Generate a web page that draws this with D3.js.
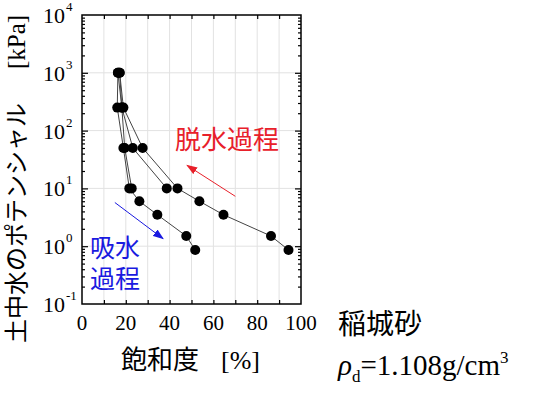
<!DOCTYPE html>
<html>
<head>
<meta charset="utf-8">
<script src="https://cdn.jsdelivr.net/npm/d3@7"></script>
<style>
  body { margin: 0; background: #fff; }
</style>
</head>
<body>
<div id="chart"></div>
<script>
const width = 535, height = 394,
    margin = ({ top: 15, right: 234, bottom: 90, left: 82 }); // plot box 82..301 x 15..304

const SERIF = "Liberation Serif, Times New Roman, DejaVu Serif, serif";
const JP = "Noto Sans CJK JP, Noto Sans CJK SC, sans-serif";

// saturation [%] and potential [kPa]
const dryingSat = [94.3, 86.3, 64.6, 53.6, 43.6, 27.7, 18.9, 17.2];
const dryingPsi = [0.86, 1.5, 3.5, 6, 10, 50, 250, 1000];
const drying2Sat = [38.7, 23.2, 18.2, 16.4];
const drying2Psi = [10, 50, 250, 1000];
const wettingSat = [16.4, 16.1, 18.9, 21.6, 26.2, 34.4, 47.6, 51.7];
const wettingPsi = [1000, 250, 50, 10, 6, 3.5, 1.5, 0.86];
const wetting2Sat = [17.2, 18.2, 19.5, 22.7];
const wetting2Psi = [1000, 250, 50, 10];

const xTicks = [0, 20, 40, 60, 80, 100];
const yExps = [-1, 0, 1, 2, 3, 4];

const svg = d3.select("#chart")
    .append("svg")
    .attr("width", width)
    .attr("height", height);

const x = d3.scaleLinear()
    .domain([0, 100])
    .range([margin.left, width - margin.right]);

const y = d3.scaleLog()
    .domain([0.1, 10000])
    .range([height - margin.bottom, margin.top]);

const x0 = x.range()[0], x1 = x.range()[1], y0 = y.range()[0], y1 = y.range()[1];

// grid
svg.append("g")
    .selectAll("line")
    .data(d3.range(10, 100, 10))
    .join("line")
    .attr("x1", d => x(d)).attr("x2", d => x(d))
    .attr("y1", y1).attr("y2", y0)
    .attr("stroke", "#e2e2e2");

svg.append("g")
    .selectAll("line")
    .data(yExps.slice(1, -1))
    .join("line")
    .attr("x1", x0).attr("x2", x1)
    .attr("y1", d => y(Math.pow(10, d))).attr("y2", d => y(Math.pow(10, d)))
    .attr("stroke", "#e2e2e2");

// inward ticks on all four sides
const xt = d3.range(10, 100, 10);
svg.append("g").attr("transform", `translate(0,${y0})`)
    .call(d3.axisTop(x).tickValues(xt).tickSize(4).tickFormat(""))
    .call(g => g.select(".domain").remove());
svg.append("g").attr("transform", `translate(0,${y1})`)
    .call(d3.axisBottom(x).tickValues(xt).tickSize(4).tickFormat(""))
    .call(g => g.select(".domain").remove());

const minor = [];
for (let e = -1; e < 4; e++) for (let m = 2; m < 10; m++) minor.push(m * Math.pow(10, e));
const major = yExps.slice(1, -1).map(e => Math.pow(10, e));
[[d3.axisRight, x0], [d3.axisLeft, x1]].forEach(([ax, pos]) => {
  svg.append("g").attr("transform", `translate(${pos},0)`)
      .call(ax(y).tickValues(minor).tickSize(3).tickFormat(""))
      .call(g => g.select(".domain").remove());
  svg.append("g").attr("transform", `translate(${pos},0)`)
      .call(ax(y).tickValues(major).tickSize(6).tickFormat(""))
      .call(g => g.select(".domain").remove());
});
svg.selectAll(".tick line").attr("stroke", "#000").attr("stroke-width", 1.2);

// frame
svg.append("rect")
    .attr("x", x0).attr("y", y1)
    .attr("width", x1 - x0).attr("height", y0 - y1)
    .attr("fill", "none")
    .attr("stroke", "#000")
    .attr("stroke-width", 1.5);

// tick labels
svg.append("g").selectAll("text")
    .data(xTicks)
    .join("text")
    .attr("font-family", SERIF)
    .attr("x", d => x(d))
    .attr("y", 330)
    .attr("text-anchor", "middle")
    .attr("font-size", 21)
    .text(d => d);

const yl = svg.append("g").selectAll("g")
    .data(yExps)
    .join("g")
    .attr("transform", d => `translate(0,${y(Math.pow(10, d))})`);
yl.append("text")
    .attr("font-family", SERIF)
    .attr("x", 65).attr("y", 8)
    .attr("text-anchor", "end")
    .attr("font-size", 22)
    .text("10");
yl.append("text")
    .attr("font-family", SERIF)
    .attr("x", 66).attr("y", -4)
    .attr("font-size", 13)
    .text(d => d);

// curves
const line = d3.line().x(d => x(d[0])).y(d => y(d[1]));
const series = [
  d3.zip(dryingSat, dryingPsi),
  d3.zip(drying2Sat, drying2Psi),
  d3.zip(wettingSat, wettingPsi),
  d3.zip(wetting2Sat, wetting2Psi)
];
svg.append("g").selectAll("path")
    .data(series)
    .join("path")
    .attr("d", line)
    .attr("fill", "none")
    .attr("stroke", "#444")
    .attr("stroke-width", 1);

svg.append("g").selectAll("circle")
    .data(series.flat())
    .join("circle")
    .attr("cx", d => x(d[0]))
    .attr("cy", d => y(d[1]))
    .attr("r", 5)
    .attr("fill", "#000");

// arrows
const defs = svg.append("defs");
[["red", "#e8202a"], ["blue", "#1a1ae0"]].forEach(([id, c]) => {
  defs.append("marker")
      .attr("id", "head-" + id)
      .attr("viewBox", "0 0 10 10")
      .attr("refX", 9).attr("refY", 5)
      .attr("markerWidth", 11).attr("markerHeight", 8)
      .attr("markerUnits", "userSpaceOnUse")
      .attr("orient", "auto")
      .attr("preserveAspectRatio", "none")
      .append("path")
      .attr("d", "M0,0L10,5L0,10z")
      .attr("fill", c);
});
svg.append("line")
    .attr("x1", x(70)).attr("y1", y(7.3))
    .attr("x2", x(48)).attr("y2", y(25))
    .attr("stroke", "#e8202a").attr("stroke-width", 1)
    .attr("marker-end", "url(#head-red)");
svg.append("line")
    .attr("x1", x(15)).attr("y1", y(5.7))
    .attr("x2", x(37)).attr("y2", y(1.35))
    .attr("stroke", "#1a1ae0").attr("stroke-width", 1)
    .attr("marker-end", "url(#head-blue)");

svg.append("text")
    .attr("font-family", JP)
    .attr("x", 175).attr("y", 149)
    .attr("font-size", 26)
    .attr("fill", "#e8202a")
    .text("脱水過程");
svg.append("text")
    .attr("font-family", JP)
    .attr("x", 90).attr("y", 257)
    .attr("font-size", 25)
    .attr("fill", "#1a1ae0")
    .text("吸水");
svg.append("text")
    .attr("font-family", JP)
    .attr("x", 90).attr("y", 288)
    .attr("font-size", 25)
    .attr("fill", "#1a1ae0")
    .text("過程");

// axis titles
const yt = svg.append("text")
    .attr("transform", "translate(25,343) rotate(-90)")
    .attr("font-size", 24);
yt.append("tspan").attr("font-family", JP).text("土中水のポテンシャル");
yt.append("tspan").attr("font-family", SERIF).attr("font-size", 25).attr("dx", 34).text("[kPa]");

const xtl = svg.append("text")
    .attr("x", 121).attr("y", 369)
    .attr("font-size", 26);
xtl.append("tspan").attr("font-family", JP).text("飽和度");
xtl.append("tspan").attr("font-family", SERIF).attr("dx", 22).text("[%]");

svg.append("text")
    .attr("font-family", JP)
    .attr("x", 338).attr("y", 334)
    .attr("font-size", 28)
    .text("稲城砂");

const rho = svg.append("text")
    .attr("font-family", SERIF)
    .attr("x", 338).attr("y", 375)
    .attr("font-size", 29);
rho.append("tspan").attr("font-style", "italic").text("ρ");
rho.append("tspan").attr("font-size", 17).attr("dy", 7).text("d");
rho.append("tspan").attr("dy", -7).text("=1.108g/cm");
rho.append("tspan").attr("font-size", 17).attr("dy", -12).text("3");
</script>
</body>
</html>
